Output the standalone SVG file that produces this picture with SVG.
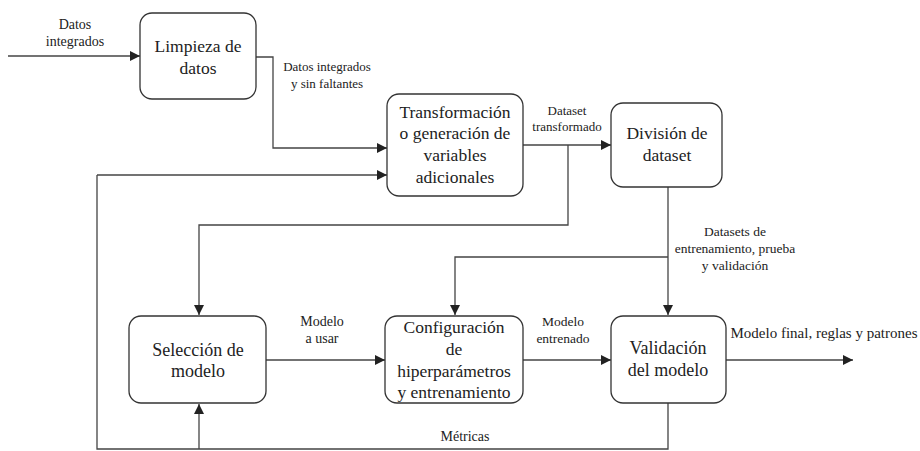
<svg xmlns="http://www.w3.org/2000/svg" width="920" height="451" viewBox="0 0 920 451">
<style>
.box{fill:#fff;stroke:#333;stroke-width:1.3}
text{font-family:'Liberation Serif','Times New Roman','DejaVu Serif','Noto Serif',serif;fill:#222;text-anchor:middle}
.bt{font-size:17.5px}
.lt{font-size:13px}
.ln{fill:none;stroke:#444;stroke-width:1.3}
.la{fill:none;stroke:#444;stroke-width:1.3;marker-end:url(#arr)}
</style>
<defs>
<marker id="arr" viewBox="0 0 10 10" refX="10" refY="5" markerWidth="10" markerHeight="10" markerUnits="userSpaceOnUse" orient="auto">
<path d="M0,0 L10,5 L0,10 z" fill="#222"/>
</marker>
</defs>
<rect width="920" height="451" fill="#fff"/>
<g id="connectors">
<path class="la" d="M8,56 H140"/>
<path class="la" d="M256,57 H273 V148 H387"/>
<path class="la" d="M523,145 H611"/>
<path class="la" d="M568,145 V225 H199 V315"/>
<path class="la" d="M668,187 V315"/>
<path class="la" d="M668,257 H455 V315"/>
<path class="la" d="M266,360 H385"/>
<path class="la" d="M523,360 H611"/>
<path class="la" d="M726,360 H853"/>
<path class="ln" d="M668,403 V449 H97 V175"/>
<path class="la" d="M97,175 H387"/>
<path class="la" d="M199,449 V404"/>
<text class="lt" x="75" y="29" style="font-size:14px">Datos</text>
<text class="lt" x="75" y="46" style="font-size:14px">integrados</text>
<text class="lt" x="327" y="71">Datos integrados</text>
<text class="lt" x="327" y="88">y sin faltantes</text>
<text class="lt" x="567" y="115">Dataset</text>
<text class="lt" x="567" y="131">transformado</text>
<text class="lt" x="735" y="236" style="font-size:13.5px">Datasets de</text>
<text class="lt" x="735" y="253" style="font-size:13.5px">entrenamiento, prueba</text>
<text class="lt" x="735" y="270" style="font-size:13.5px">y validación</text>
<text class="lt" x="322" y="326" style="font-size:14px">Modelo</text>
<text class="lt" x="322" y="343" style="font-size:14px">a usar</text>
<text class="lt" x="563" y="326" style="font-size:13.5px">Modelo</text>
<text class="lt" x="563" y="343" style="font-size:13.5px">entrenado</text>
<text class="lt" x="824" y="338" style="font-size:15px">Modelo final, reglas y patrones</text>
<text class="lt" x="465" y="441" style="font-size:14px">Métricas</text>
</g>
<g id="limpieza">
<rect class="box" x="140" y="13" width="116" height="86" rx="12"/>
<text class="bt" x="198" y="52">Limpieza de</text>
<text class="bt" x="198" y="74">datos</text>
</g>
<g id="transformacion">
<rect class="box" x="387" y="94" width="136" height="102" rx="12"/>
<text class="bt" x="455" y="118">Transformación</text>
<text class="bt" x="455" y="139">o generación de</text>
<text class="bt" x="455" y="161">variables</text>
<text class="bt" x="455" y="183">adicionales</text>
</g>
<g id="division">
<rect class="box" x="611" y="103" width="111" height="84" rx="12"/>
<text class="bt" x="667" y="139">División de</text>
<text class="bt" x="667" y="161">dataset</text>
</g>
<g id="seleccion">
<rect class="box" x="129" y="316" width="137" height="87" rx="12"/>
<text class="bt" x="198" y="356" style="font-size:18px">Selección de</text>
<text class="bt" x="198" y="377" style="font-size:18px">modelo</text>
</g>
<g id="configuracion">
<rect class="box" x="385" y="316" width="138" height="87" rx="12"/>
<text class="bt" x="454" y="333">Configuración</text>
<text class="bt" x="454" y="355">de</text>
<text class="bt" x="454" y="377">hiperparámetros</text>
<text class="bt" x="454" y="398">y entrenamiento</text>
</g>
<g id="validacion">
<rect class="box" x="611" y="316" width="115" height="87" rx="12"/>
<text class="bt" x="668" y="354" style="font-size:18px">Validación</text>
<text class="bt" x="668" y="376" style="font-size:18px">del modelo</text>
</g>
</svg>
